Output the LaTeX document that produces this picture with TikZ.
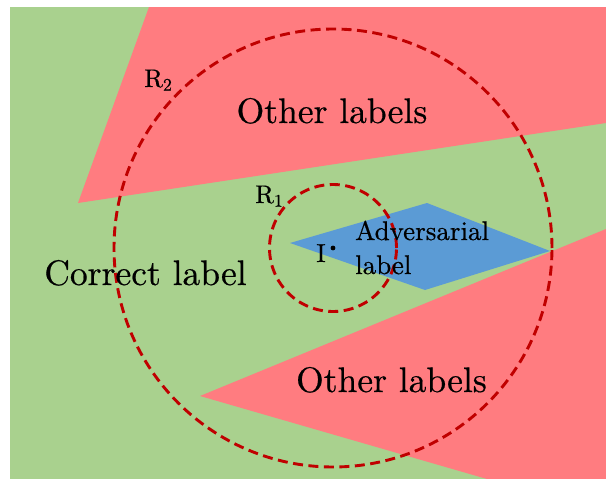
\documentclass[tikz,border=0pt]{standalone}
\usepackage{fontspec}
\setmainfont{lmroman10-regular}[Extension=.otf, FakeBold=0.5]
\usepackage{tikz}
\definecolor{regiongreen}{HTML}{A9D18E}
\definecolor{regionred}{HTML}{FF7C80}
\definecolor{regionblue}{HTML}{5B9BD5}
\definecolor{ringred}{HTML}{C00000}
\tikzset{
  ring/.style={draw=ringred, line width=2.9pt, dash pattern=on 10pt off 5.5pt},
  biglabel/.style={font=\fontsize{35.5}{40}\selectfont, anchor=base, inner sep=0pt},
  advlabel/.style={font=\fontsize{27}{34}\selectfont, anchor=base west, inner sep=0pt},
  radiuslabel/.style={font=\fontsize{25.5}{28}\selectfont, anchor=base west, inner sep=0pt},
}
\begin{document}
\begin{tikzpicture}[x=1pt, y=-1pt]
  \useasboundingbox (0,0) rectangle (606,479);
  % decision regions
  \fill[regiongreen] (10,7) rectangle (606,479);
  \fill[regionred] (149,7) -- (606,7) -- (606,123) -- (78,203) -- cycle;
  \fill[regionred] (200,396) -- (606,229) -- (606,479) -- (487,479) -- cycle;
  \fill[regionblue] (290,243) -- (427,203) -- (550,251) -- (425,290) -- cycle;
  % neighbourhoods around the input
  \coordinate (c) at (333,248);
  \draw[ring] (c) circle[radius=219pt];
  \draw[ring] (c) circle[radius=63.5pt];
  \fill (c) circle[radius=2.4pt];
  % labels
  \node[biglabel] (otherTop) at (332,123) {Other labels};
  \node[biglabel] (correct) at (145.5,285) {Correct label};
  \node[biglabel] (otherBottom) at (391.5,392) {Other labels};
  \node[advlabel] (adv) at (355,240) {Adversarial};
  \node[advlabel] (advB) at (355,274) {label};
  \node[font=\fontsize{26}{30}\selectfont, anchor=base, inner sep=0pt] (input) at (321,262) {I};
  \node[radiuslabel] (rOne) at (255,203) {R\textsubscript{1}};
  \node[radiuslabel] (rTwo) at (144,87) {R\textsubscript{2}};
\end{tikzpicture}
\end{document}
